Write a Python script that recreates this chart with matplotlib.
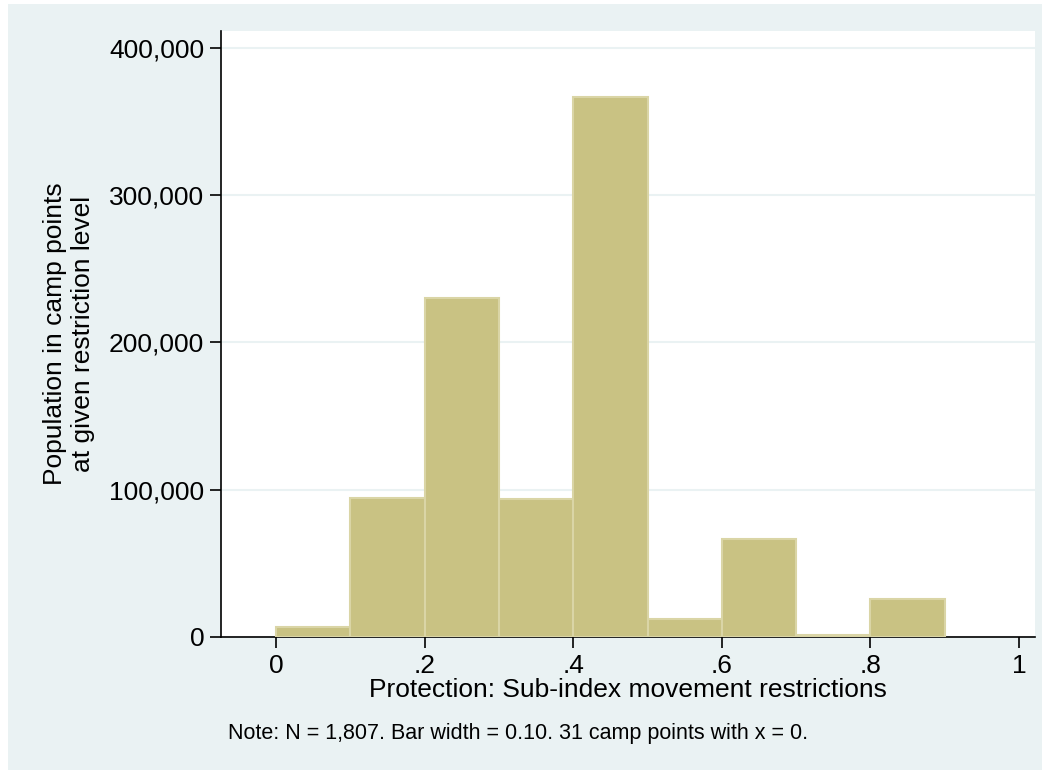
import matplotlib
matplotlib.use("Agg")
import matplotlib.pyplot as plt
from matplotlib.patches import Rectangle

bin_lefts = [0.0, 0.1, 0.2, 0.3, 0.4, 0.5, 0.6, 0.7, 0.8]
population = [6500, 94300, 230200, 93700, 366800, 12000, 66800, 1400, 25800]
bar_width = 0.1
y_ticks = [0, 100000, 200000, 300000, 400000]
y_tick_labels = ["0", "100,000", "200,000", "300,000", "400,000"]
x_ticks = [0, 0.2, 0.4, 0.6, 0.8, 1.0]
x_tick_labels = ["0", ".2", ".4", ".6", ".8", "1"]

plt.rcParams['font.family'] = ['Liberation Sans', 'DejaVu Sans']

BG = "#EAF2F3"
fig = plt.figure(figsize=(10.5, 7.7), dpi=100, facecolor="white")
fig.patches.append(Rectangle((8/1050, 0), 1 - 16/1050, 1 - 4/770,
                             transform=fig.transFigure, facecolor=BG,
                             edgecolor="none", zorder=-10))
ax = fig.add_axes([221/1050, 1 - 637/770, (1035-221)/1050, (637-31)/770])
ax.set_facecolor("white")

ax.bar(bin_lefts, population, width=bar_width, align="edge",
       color="#C9C283", edgecolor="#DAD5A6", linewidth=1.5, zorder=3)

ax.set_xlim(-0.074, 1.0215)
ax.set_ylim(0, 411500)
ax.set_yticks(y_ticks)
ax.set_yticklabels(y_tick_labels)
ax.set_xticks(x_ticks)
ax.set_xticklabels(x_tick_labels)
ax.tick_params(axis="both", direction="out", length=8, width=1.2,
               labelsize=19, color="black", pad=4)
ax.yaxis.grid(True, color=BG, linewidth=1.5, zorder=0)
ax.set_axisbelow(True)
for s in ["top", "right"]:
    ax.spines[s].set_visible(False)
for s in ["left", "bottom"]:
    ax.spines[s].set_linewidth(1.2)
    ax.spines[s].set_color("black")

ax.set_xlabel("Protection: Sub-index movement restrictions", fontsize=19, labelpad=0)
ax.set_ylabel("Population in camp points\nat given restriction level", fontsize=19,
              linespacing=1.2, labelpad=10)

fig.text(228/1050, 1 - 733/770, "Note: N = 1,807. Bar width = 0.10. 31 camp points with x = 0.",
         fontsize=15.5, va="center", ha="left")

fig.savefig("out.png", dpi=100, facecolor=fig.get_facecolor())
